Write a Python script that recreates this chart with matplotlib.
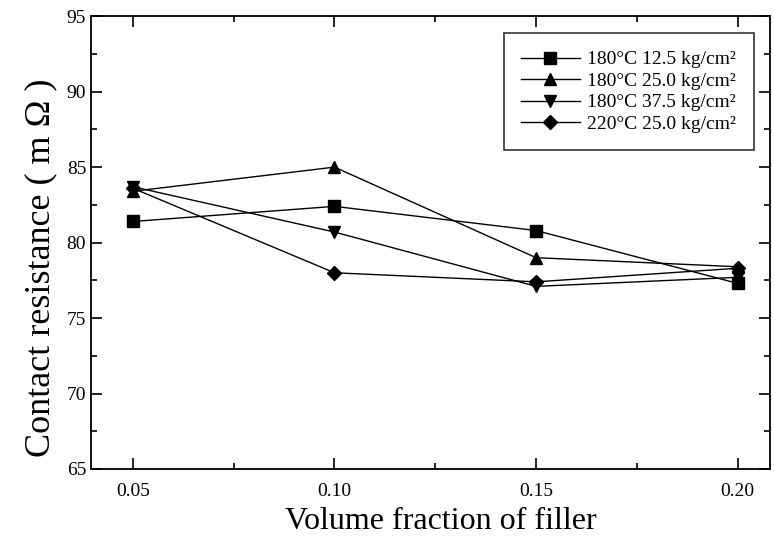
import matplotlib
matplotlib.use("Agg")
import matplotlib.pyplot as plt
from matplotlib.ticker import MultipleLocator

plt.rcParams['font.family'] = ['Liberation Serif', 'DejaVu Serif']

x = [0.05, 0.10, 0.15, 0.20]
s_125 = [81.4, 82.4, 80.8, 77.3]
s_250 = [83.4, 85.0, 79.0, 78.4]
s_375 = [83.7, 80.7, 77.1, 77.7]
s_220 = [83.6, 78.0, 77.4, 78.3]
labels = ["180°C 12.5 kg/cm²", "180°C 25.0 kg/cm²",
          "180°C 37.5 kg/cm²", "220°C 25.0 kg/cm²"]
markers = ['s', '^', 'v', 'D']

fig = plt.figure(figsize=(7.74, 5.40), dpi=100)
ax = fig.add_axes([0.1176, 0.1315, 0.877, 0.8385])

for ys, lab, m in zip([s_125, s_250, s_375, s_220], labels, markers):
    ax.plot(x, ys, color='black', lw=1.0, marker=m,
            markersize=8 if m != 'D' else 7, label=lab)

ax.set_xlim(0.0396, 0.208)
ax.set_ylim(65, 95)
ax.set_xticks(x)
ax.set_xticklabels(["0.05", "0.10", "0.15", "0.20"])
ax.xaxis.set_minor_locator(MultipleLocator(0.025))
ax.yaxis.set_major_locator(MultipleLocator(5))
ax.yaxis.set_minor_locator(MultipleLocator(2.5))
ax.tick_params(which='both', direction='in', top=True, right=True,
               labelsize=14, width=1.2)
ax.tick_params(axis='x', pad=10)
ax.tick_params(which='major', length=8)
ax.tick_params(which='minor', length=4)
for sp in ax.spines.values():
    sp.set_linewidth(1.3)

ax.set_xlabel("Volume fraction of filler", fontsize=23)
ax.xaxis.set_label_coords(0.515, -0.085)
ax.set_ylabel("Contact resistance ( m Ω )", fontsize=26)
ax.yaxis.set_label_coords(-0.05, 0.444)

leg = ax.legend(loc='upper right', bbox_to_anchor=(0.985, 0.975), fontsize=14,
                frameon=True, fancybox=False, edgecolor='black',
                handlelength=3.0, labelspacing=0.2, borderpad=0.9,
                handletextpad=0.4, borderaxespad=0.3)
leg.get_frame().set_linewidth(1.2)

fig.savefig("out.png", dpi=100)
